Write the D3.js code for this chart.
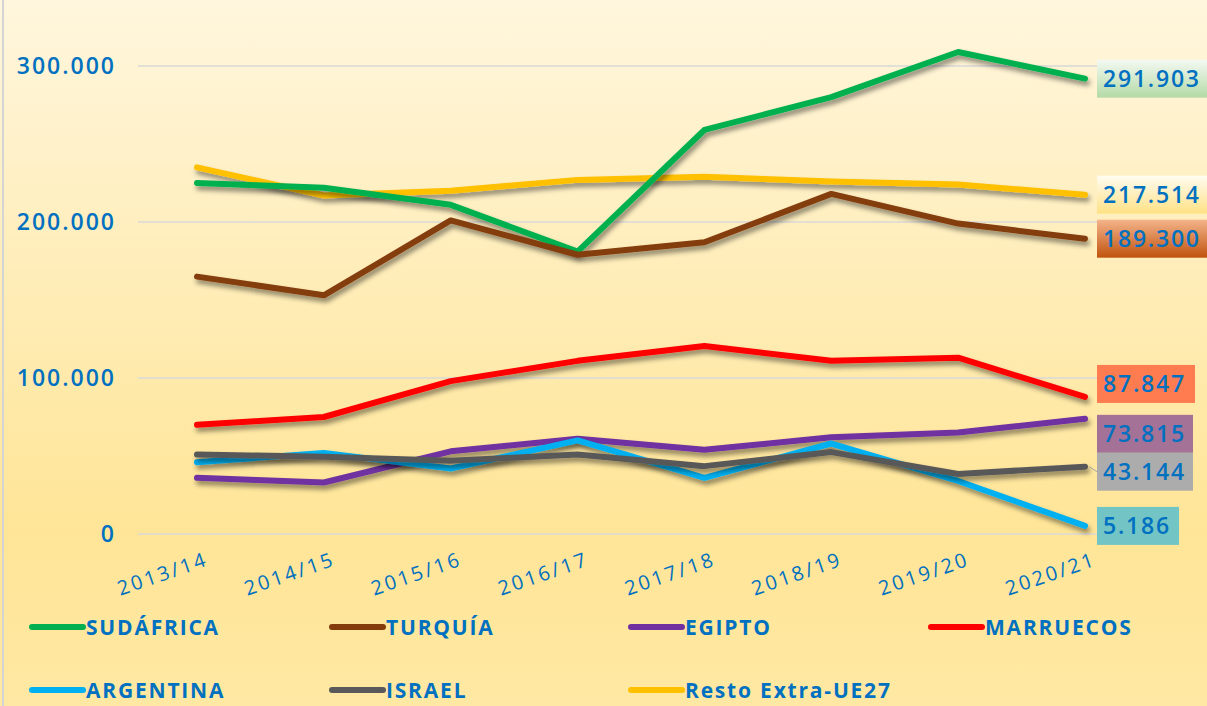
<!DOCTYPE html>
<html>
<head>
<meta charset="utf-8">
<script src="https://cdn.jsdelivr.net/npm/d3@7"></script>
<style>
  body { margin: 0; background: #fff; }
  svg { display: block; }
  text { font-family: "Open Sans", "DejaVu Sans", sans-serif; fill: #0070C0; }
</style>
</head>
<body>
<svg width="1207" height="706"></svg>
<script>
var campaigns = ["2013/14", "2014/15", "2015/16", "2016/17", "2017/18", "2018/19", "2019/20", "2020/21"];
var countries = ["SUDÁFRICA", "TURQUÍA", "EGIPTO", "MARRUECOS", "ARGENTINA", "ISRAEL", "Resto Extra-UE27"];
var sudafrica = [225000, 222000, 211000, 181000, 259000, 280000, 309000, 291903];
var turquia   = [165000, 153000, 201000, 179000, 187000, 218000, 199000, 189300];
var egipto    = [36000, 33000, 53000, 61000, 54000, 62000, 65000, 73815];
var marruecos = [70000, 75000, 98000, 111000, 120500, 111000, 113000, 87847];
var argentina = [46000, 52000, 42000, 60000, 36000, 58000, 34000, 5186];
var israel    = [51000, 49500, 47000, 51000, 43500, 52500, 38500, 43144];
var resto     = [235000, 217000, 220000, 227000, 229000, 226000, 224000, 217514];
var yTicks = [0, 100000, 200000, 300000];

var seriesValues = [sudafrica, turquia, egipto, marruecos, argentina, israel, resto];
var colors = ["#00B050", "#843C0C", "#7030A0", "#FF0000", "#00B0F0", "#595959", "#FFC000"];
// draw order: back to front
var drawOrder = [6, 0, 1, 3, 2, 4, 5];

var svg = d3.select("svg");
var defs = svg.append("defs");

var bg = defs.append("linearGradient").attr("id", "bg").attr("x1", 0).attr("y1", 0).attr("x2", 0).attr("y2", 1);
bg.append("stop").attr("offset", "0%").attr("stop-color", "#FFF6DD");
bg.append("stop").attr("offset", "75%").attr("stop-color", "#FFE597");
bg.append("stop").attr("offset", "100%").attr("stop-color", "#FFE8A3");

function grad(id, c1, c2) {
  var g = defs.append("linearGradient").attr("id", id).attr("x1", 0).attr("y1", 0).attr("x2", 0).attr("y2", 1);
  g.append("stop").attr("offset", "0%").attr("stop-color", c1);
  g.append("stop").attr("offset", "100%").attr("stop-color", c2);
}
grad("gGreen", "#F4F9F2", "#B3DAA6");
grad("gYellow", "#FFFCF2", "#FFE184");
grad("gOrange", "#F4B48A", "#C0530E");

var shadow = defs.append("filter").attr("id", "shadow").attr("x", "-10%").attr("y", "-50%").attr("width", "120%").attr("height", "200%");
shadow.append("feDropShadow").attr("dx", 2).attr("dy", 4).attr("stdDeviation", 2.5)
  .attr("flood-color", "#000").attr("flood-opacity", 0.45);

svg.append("rect").attr("width", 1207).attr("height", 706).attr("fill", "url(#bg)");
svg.append("line").attr("x1", 3).attr("x2", 3).attr("y1", 0).attr("y2", 706)
  .attr("stroke", "#D4D4D4").attr("stroke-width", 2);

var x = d3.scalePoint().domain(campaigns).range([197, 1085]);
var y = d3.scaleLinear().domain([0, 300000]).range([534, 66]);

var fmt = function(v) { return d3.format(",")(v).replace(/,/g, "."); };

// grid
svg.append("g").selectAll("line").data(yTicks).enter().append("line")
  .attr("x1", 138).attr("x2", 1110)
  .attr("y1", function(d) { return y(d); }).attr("y2", function(d) { return y(d); })
  .attr("stroke", "#D9D9D9").attr("stroke-width", 1.5);

// y axis
var yAxis = svg.append("g").attr("transform", "translate(116,0)")
  .call(d3.axisLeft(y).tickValues(yTicks).tickSize(0).tickPadding(0).tickFormat(fmt));
yAxis.select(".domain").remove();
yAxis.selectAll("text").style("font-size", "23px").style("font-weight", 600)
  .style("letter-spacing", "2px").attr("fill", "#0070C0");

// x axis
var xAxis = svg.append("g").attr("transform", "translate(0,548)")
  .call(d3.axisBottom(x).tickSize(0).tickPadding(0));
xAxis.select(".domain").remove();
xAxis.selectAll("text")
  .style("font-size", "20px").style("letter-spacing", "2.6px").attr("fill", "#0070C0")
  .attr("text-anchor", "end").attr("dy", "0.9em").attr("y", 0)
  .attr("transform", "translate(6,0) rotate(-19)");

// lines
var line = d3.line()
  .x(function(d, i) { return x(campaigns[i]); })
  .y(function(d) { return y(d); });

svg.append("g").selectAll("path").data(drawOrder).enter().append("path")
  .attr("d", function(k) { return line(seriesValues[k]); })
  .attr("fill", "none")
  .attr("stroke", function(k) { return colors[k]; })
  .attr("stroke-width", 6)
  .attr("stroke-linecap", "round")
  .attr("stroke-linejoin", "round")
  .attr("filter", "url(#shadow)");

// end labels
var boxFill = ["url(#gGreen)", "url(#gOrange)", "#A57297", "#FF7B50", "#73C5C5", "#ACACAC", "url(#gYellow)"];
var labelNudge = [0, 0, 15, -13, 0, 5, 0];
var boxW = [120, 120, 96, 98, 82, 96, 120];
var last = campaigns.length - 1;

var labels = svg.append("g").selectAll("g").data(d3.range(countries.length)).enter().append("g")
  .attr("transform", function(k) {
    return "translate(1097," + (y(seriesValues[k][last]) + labelNudge[k]) + ")";
  });
labels.append("rect")
  .attr("x", 0).attr("y", -19).attr("height", 38)
  .attr("width", function(k) { return boxW[k]; })
  .attr("fill", function(k) { return boxFill[k]; });
labels.append("text")
  .attr("x", 6).attr("dy", "0.36em")
  .style("font-size", "23px").style("font-weight", 600).style("letter-spacing", "1.8px")
  .text(function(k) { return fmt(seriesValues[k][last]); });

// leader for ISRAEL
svg.append("line")
  .attr("x1", x(campaigns[last]) + 4).attr("x2", 1097)
  .attr("y1", y(israel[last])).attr("y2", y(israel[last]) + 5)
  .attr("stroke", "#A6A6A6").attr("stroke-width", 1);

// legend
var legendPos = [[32, 627], [332, 627], [631, 627], [931, 627], [32, 690], [332, 690], [631, 690]];
var legend = svg.append("g").selectAll("g").data(d3.range(countries.length)).enter().append("g")
  .attr("transform", function(k) { return "translate(" + legendPos[k][0] + "," + legendPos[k][1] + ")"; });
legend.append("line")
  .attr("x1", 0).attr("x2", 51)
  .attr("stroke", function(k) { return colors[k]; })
  .attr("stroke-width", 6).attr("stroke-linecap", "round");
legend.append("text")
  .attr("x", 54).attr("dy", "0.36em")
  .style("font-size", "21px").style("font-weight", 700).style("letter-spacing", "1.8px")
  .text(function(k) { return countries[k]; });
</script>
</body>
</html>
